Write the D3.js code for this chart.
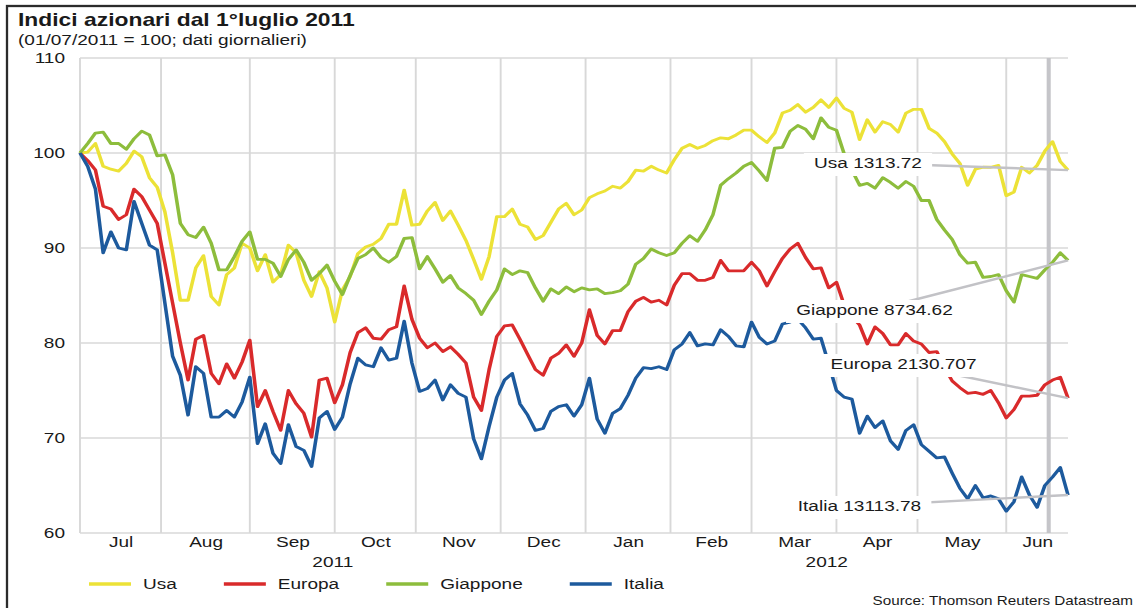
<!DOCTYPE html>
<html>
<head>
<meta charset="utf-8">
<script src="https://cdn.jsdelivr.net/npm/d3@7"></script>
<style>
  body { margin: 0; background: #fff; }
  svg { display: block; font-family: "Liberation Sans", Arial, sans-serif; }
</style>
</head>
<body>
<script>
// Index levels (01/07/2011 = 100), read every second trading day from 1 Jul 2011
const usa = [
  100.0,100.1,101.0,98.6,98.3,98.1,98.9,100.2,99.6,97.4,
  96.4,93.8,89.5,84.5,84.5,87.9,89.2,84.9,84.0,87.2,
  87.9,90.5,90.0,87.6,89.3,86.4,87.2,90.3,89.5,86.6,
  84.9,87.5,85.8,82.2,85.6,87.0,89.4,90.1,90.4,91.0,
  92.5,92.5,96.1,92.4,92.5,93.9,94.8,92.9,93.9,92.4,
  90.8,88.8,86.7,89.1,93.3,93.3,94.1,92.5,92.2,90.9,
  91.3,92.7,94.1,94.7,93.5,94.0,95.3,95.7,96.0,96.5,
  96.3,97.0,98.2,98.1,98.6,98.2,97.9,99.3,100.5,100.9,
  100.5,100.8,101.3,101.6,101.5,101.9,102.4,102.4,101.7,101.1,
  102.1,104.2,104.5,105.1,104.3,104.8,105.6,104.8,105.8,104.7,
  104.3,101.4,103.5,102.2,103.3,103.0,102.2,104.2,104.6,104.6,
  102.6,102.1,101.2,99.9,98.9,96.6,98.3,98.5,98.5,98.7,
  95.5,95.9,98.5,97.9,98.7,100.2,101.2,99.1,98.2
];
const europa = [
  100.0,99.2,98.2,94.4,94.1,93.0,93.5,96.2,95.4,94.0,
  92.6,88.4,84.2,80.0,76.1,80.4,80.8,76.8,75.7,77.8,
  76.3,78.0,80.3,73.3,75.0,72.8,70.8,75.0,73.6,72.6,
  70.1,76.1,76.3,73.7,75.6,79.0,81.1,81.6,80.5,80.4,
  81.4,81.7,86.0,82.5,80.5,79.5,80.0,79.1,79.6,78.8,
  77.9,74.3,72.9,77.2,80.7,81.8,81.9,80.4,78.8,77.2,
  76.6,78.4,78.9,79.8,78.6,80.0,83.5,80.8,79.9,81.3,
  81.3,83.3,84.4,84.8,84.3,84.5,84.0,86.1,87.3,87.3,
  86.6,86.6,86.9,88.7,87.6,87.6,87.6,88.5,87.6,86.0,
  87.5,88.9,89.9,90.5,89.0,87.8,87.9,85.8,86.4,84.0,
  82.8,81.9,79.9,81.7,81.0,79.8,79.8,81.0,80.2,79.9,
  79.0,79.1,77.4,76.0,75.3,74.7,74.8,74.6,75.0,73.7,
  72.1,73.0,74.4,74.4,74.5,75.6,76.1,76.4,74.2
];
const giappone = [
  100.0,101.0,102.1,102.2,101.0,101.0,100.4,101.5,102.3,101.9,
  99.7,99.8,97.7,92.6,91.4,91.1,92.2,90.5,87.7,87.7,
  89.1,90.7,91.7,88.8,88.8,88.4,87.0,88.8,89.8,88.5,
  86.6,87.3,88.2,86.5,85.1,87.1,88.9,89.3,90.0,89.0,
  88.5,89.1,91.0,91.1,87.8,89.1,87.8,86.4,87.1,85.8,
  85.2,84.5,83.0,84.4,85.6,87.8,87.2,87.6,87.4,85.8,
  84.4,85.7,85.2,85.9,85.4,85.8,85.6,85.7,85.2,85.3,
  85.5,86.2,88.3,88.9,89.9,89.5,89.2,89.5,90.5,91.3,
  90.7,91.9,93.5,96.6,97.3,97.9,98.6,99.0,98.1,97.1,
  100.5,100.6,102.3,102.9,102.5,101.5,103.7,102.7,102.4,99.9,
  98.2,96.6,96.8,96.3,97.4,96.9,96.3,97.0,96.5,95.0,
  95.0,93.0,91.9,90.9,89.3,88.4,88.5,86.9,87.0,87.2,
  85.5,84.3,87.2,87.0,86.8,87.7,88.5,89.5,88.7
];
const italia = [
  100.0,98.6,96.2,89.5,91.7,90.0,89.8,94.9,92.6,90.3,
  89.8,84.2,78.6,76.6,72.4,77.5,76.8,72.2,72.2,72.9,
  72.2,73.8,76.4,69.4,71.5,68.4,67.3,71.4,69.1,68.7,
  67.0,72.1,72.8,70.9,72.2,75.7,78.4,77.7,77.5,79.5,
  78.2,78.4,82.3,77.9,74.9,75.2,76.1,74.0,75.6,74.7,
  74.3,69.9,67.8,71.2,74.3,76.1,76.8,73.6,72.4,70.8,
  71.0,72.8,73.3,73.5,72.3,73.5,76.3,72.0,70.5,72.6,
  73.1,74.5,76.3,77.4,77.3,77.5,77.2,79.3,79.9,81.1,
  79.7,79.9,79.8,81.4,80.7,79.7,79.6,82.2,80.6,79.9,
  80.2,82.0,82.2,82.5,81.6,80.4,80.5,77.8,75.0,74.3,
  74.1,70.5,72.3,71.1,71.8,69.7,68.8,70.8,71.4,69.3,
  68.6,67.9,68.0,66.3,64.7,63.6,65.0,63.7,63.9,63.6,
  62.3,63.3,65.9,64.0,62.7,65.0,65.9,66.9,64.0
];

const seriesNames = ["Usa", "Europa", "Giappone", "Italia"];
const lastLevels = ["1313.72", "2130.707", "8734.62", "13113.78"];
const seriesColors = ["#ece237", "#d92a2b", "#8dbd3c", "#1d5a9d"];
const monthNames = ["Jul", "Aug", "Sep", "Oct", "Nov", "Dec", "Jan", "Feb", "Mar", "Apr", "May", "Jun"];
const yearLabels = ["2011", "2012"];
const yTicks = [60, 70, 80, 90, 100, 110];
const eventDate = new Date(2012, 5, 18);     // marked with the thick grey line

// Label spots in picture pixels: centre x, baseline y (same order as seriesNames)
const calloutPos = [[868, 168], [903.5, 369], [874.5, 315], [859.5, 511]];

const W = 1136, H = 608;
const sx = 1.27;                 // the original chart is stretched horizontally
const px = v => v / sx;          // picture x -> inner x

// Trading days (weekdays) shown on the x axis
const days = d3.timeDay.range(new Date(2011, 6, 1), new Date(2012, 5, 26))
  .filter(d => d.getDay() % 6 !== 0);
const sampleIdx = days.map((d, i) => i).filter(i => i % 2 === 0);
const dayIndex = date => Math.min(d3.bisectLeft(days, date), days.length - 1);

const x = d3.scaleLinear().domain([0, days.length - 1]).range([px(80), px(1068)]);
const y = d3.scaleLinear().domain([60, 110]).range([533, 58]);

const months = d3.timeMonth.range(new Date(2011, 6, 1), new Date(2012, 6, 1));
const monthStart = months.map(dayIndex);
const monthEnd = monthStart.slice(1).concat(days.length - 1);
const monthMid = monthStart.map((s, i) => (s + monthEnd[i]) / 2);

const svg = d3.select("body").append("svg")
  .attr("width", W)
  .attr("height", H);

// Outer frame (only top and left edges are inside the picture)
svg.append("rect")
  .attr("x", 7).attr("y", 6)
  .attr("width", W + 100).attr("height", H + 100)
  .attr("fill", "none")
  .attr("stroke", "#2b2b2b")
  .attr("stroke-width", 2.3);

const g = svg.append("g").attr("transform", `scale(${sx},1)`);

// --- Titles ---
g.append("text")
  .attr("x", px(18)).attr("y", 26)
  .attr("font-size", 18).attr("font-weight", "bold").attr("fill", "#1a1a1a")
  .text("Indici azionari dal 1°luglio 2011");
g.append("text")
  .attr("x", px(18)).attr("y", 45)
  .attr("font-size", 15).attr("fill", "#1a1a1a")
  .text("(01/07/2011 = 100; dati giornalieri)");

// --- Grid ---
const grid = g.append("g").attr("stroke", "#d8d8d8").attr("stroke-width", 1.5);
grid.selectAll(".h").data(yTicks).join("line")
  .attr("x1", x.range()[0]).attr("x2", x.range()[1])
  .attr("y1", d => y(d)).attr("y2", d => y(d));
grid.selectAll(".v").data(monthStart).join("line")
  .attr("x1", d => x(d)).attr("x2", d => x(d))
  .attr("y1", y.range()[1]).attr("y2", y.range()[0]);

// Event marker
g.append("line")
  .attr("x1", x(dayIndex(eventDate))).attr("x2", x(dayIndex(eventDate)))
  .attr("y1", y(110)).attr("y2", y(60))
  .attr("stroke", "#c5c5c9")
  .attr("stroke-width", 3.2);

// --- Axes ---
const yAxis = g.append("g")
  .attr("transform", `translate(${px(80)},0)`)
  .call(d3.axisLeft(y).tickValues(yTicks).tickSize(0).tickPadding(px(15)));
yAxis.select(".domain").remove();
yAxis.attr("font-size", 15).attr("font-family", null).style("color", "#1a1a1a");

const xAxis = g.append("g")
  .attr("transform", `translate(0,${y(60)})`)
  .call(d3.axisBottom(x).tickValues(monthMid).tickFormat((d, i) => monthNames[i])
    .tickSize(0).tickPadding(3.5));
xAxis.select(".domain").remove();
xAxis.attr("font-size", 15).attr("font-family", null).style("color", "#1a1a1a");

// Year labels centred under their months
const yearSpans = [[0, monthStart[6]], [monthStart[6], days.length - 1]];
g.selectAll(".year").data(yearLabels).join("text")
  .attr("x", (d, i) => x((yearSpans[i][0] + yearSpans[i][1]) / 2))
  .attr("y", 567)
  .attr("text-anchor", "middle")
  .attr("font-size", 15).attr("fill", "#1a1a1a")
  .text(d => d);

// --- Series ---
const series = seriesNames.map((name, i) => ({
  name,
  color: seriesColors[i],
  values: [usa, europa, giappone, italia][i],
  level: lastLevels[i],
  pos: calloutPos[i]
}));

const line = d3.line()
  .x((d, i) => x(sampleIdx[i]))
  .y(d => y(d));

g.append("g")
  .attr("fill", "none")
  .attr("stroke-width", 2.8)
  .attr("stroke-linejoin", "round")
  .selectAll("path")
  .data(series)
  .join("path")
  .attr("stroke", d => d.color)
  .attr("d", d => line(d.values));

// --- Callouts with last level ---
const call = g.append("g");
call.selectAll("line").data(series).join("line")
  .attr("x1", d => px(d.pos[0])).attr("y1", d => d.pos[1] - 5)
  .attr("x2", d => x(sampleIdx[d.values.length - 1]))
  .attr("y2", d => y(d.values[d.values.length - 1]))
  .attr("stroke", "#c2c2c6")
  .attr("stroke-width", 2.4);

const tags = call.selectAll(".tag").data(series).join("g");
tags.append("rect").attr("fill", "#fff");
const tagText = tags.append("text")
  .attr("x", d => px(d.pos[0])).attr("y", d => d.pos[1])
  .attr("text-anchor", "middle")
  .attr("font-size", 15).attr("fill", "#1a1a1a")
  .text(d => `${d.name} ${d.level}`);
tagText.each(function(d) {
  const w = this.getComputedTextLength();
  d3.select(this.parentNode).select("rect")
    .attr("x", px(d.pos[0]) - w / 2 - 8)
    .attr("y", d.pos[1] - 15)
    .attr("width", w + 16)
    .attr("height", 23);
});

// --- Legend ---
let lx = px(89);
series.forEach(d => {
  g.append("line")
    .attr("x1", lx).attr("x2", lx + px(42))
    .attr("y1", 584).attr("y2", 584)
    .attr("stroke", d.color)
    .attr("stroke-width", 3.5);
  const t = g.append("text")
    .attr("x", lx + px(54)).attr("y", 589)
    .attr("font-size", 15).attr("fill", "#1a1a1a")
    .text(d.name);
  lx += px(54) + t.node().getComputedTextLength() + px(47);
});

// Source
g.append("text")
  .attr("x", px(1133)).attr("y", 605)
  .attr("text-anchor", "end")
  .attr("font-size", 12).attr("fill", "#1a1a1a")
  .text("Source: Thomson Reuters Datastream");
</script>
</body>
</html>
